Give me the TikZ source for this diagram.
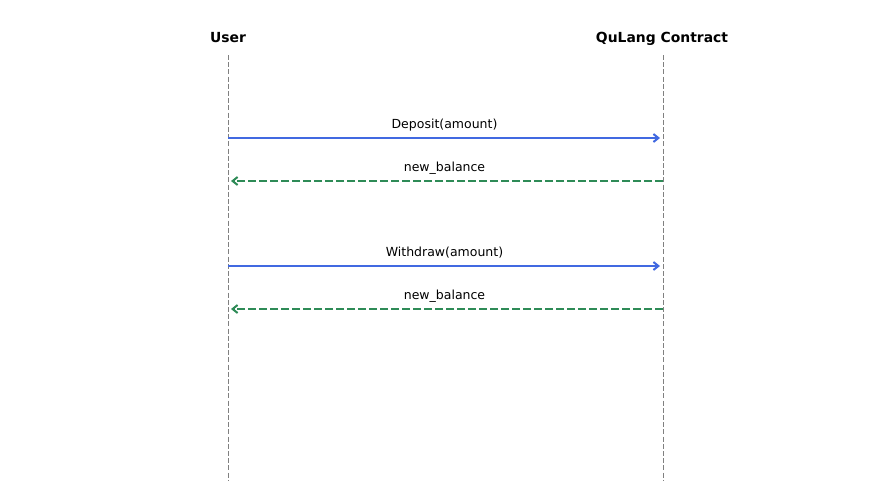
\documentclass[tikz,border=0pt]{standalone}
\usepackage{fontspec}
\setmainfont{DejaVu Sans}
\usetikzlibrary{arrows.meta}
\definecolor{lifegray}{HTML}{808080}
\definecolor{callblue}{HTML}{4169E1}
\definecolor{retgreen}{HTML}{2E8B57}
\tikzset{
  header/.style={font=\fontsize{13.9pt}{16pt}\selectfont\bfseries, inner sep=0pt, anchor=base},
  msglabel/.style={font=\fontsize{12.5pt}{14pt}\selectfont, inner sep=0pt, anchor=base},
  lifeline/.style={draw=lifegray, line width=1pt, dash pattern=on 5pt off 2.2pt},
  callarrow/.style={draw=callblue, line width=2pt, -{Straight Barb[length=5pt,width=8pt,line width=2pt]}, shorten >=3pt},
  retarrow/.style={draw=retgreen, line width=2pt, dash pattern=on 7.7pt off 3.3pt, -{Straight Barb[length=5pt,width=8pt,line width=2pt]}, shorten >=3pt},
}
\begin{document}
\begin{tikzpicture}[x=1pt,y=-1pt]
\useasboundingbox (0,0) rectangle (889,490);
\node[header] (user) at (228,42) {User};
\node[header] (contract) at (662,42) {QuLang Contract};
\coordinate (utop) at (228,55);
\coordinate (ubot) at (228,480);
\coordinate (ctop) at (663,55);
\coordinate (cbot) at (663,480);
\draw[lifeline] (utop) -- (ubot);
\draw[lifeline] (ctop) -- (cbot);
% messages
\coordinate (u1) at (228,138); \coordinate (c1) at (663,138);
\coordinate (u2) at (228,181); \coordinate (c2) at (663,181);
\coordinate (u3) at (228,266); \coordinate (c3) at (663,266);
\coordinate (u4) at (228,309); \coordinate (c4) at (663,309);
\draw[callarrow] (u1) -- (c1);
\draw[retarrow] (c2) -- (u2);
\draw[callarrow] (u3) -- (c3);
\draw[retarrow] (c4) -- (u4);
\node[msglabel] (l1) at (444.5,128.5) {Deposit(amount)};
\node[msglabel] (l2) at (444.5,171.5) {new\_balance};
\node[msglabel] (l3) at (444.5,256.5) {Withdraw(amount)};
\node[msglabel] (l4) at (444.5,299.5) {new\_balance};
\end{tikzpicture}
\end{document}
